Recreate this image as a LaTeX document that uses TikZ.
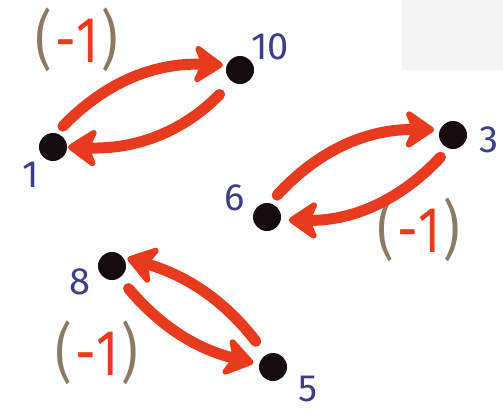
\documentclass[tikz,border=0pt]{standalone}
\usepackage{fontspec}
\setmainfont{Fira Sans}
\usetikzlibrary{arrows.meta}
\definecolor{arrred}{RGB}{232,58,28}
\definecolor{lblblue}{RGB}{60,62,140}
\definecolor{brn}{RGB}{140,122,100}
\definecolor{dotblk}{RGB}{22,12,16}
\definecolor{scan}{RGB}{243,243,243}
\tikzset{
  dot/.style={circle,fill=dotblk,minimum size=28pt,inner sep=0pt,outer sep=0pt},
  lbl/.style={text=lblblue,font=\fontsize{38}{38}\selectfont,inner sep=0pt},
  neg/.style={font=\fontsize{54}{54}\selectfont,inner sep=0pt},
  arr/.style={draw=arrred,line width=11pt,line cap=round,
    -{Stealth[length=34pt,width=46pt,inset=10pt,round]}}
}
\newcommand{\minusone}{\scalebox{0.95}[1.2]{{\color{brn}(}\kern3pt{\color{arrred}-\kern1pt1}\kern3pt{\color{brn})}}}
\begin{document}
\begin{tikzpicture}[x=1pt,y=-1pt]
\useasboundingbox (0,0) rectangle (503,415);
\fill[scan] (402,0) rectangle (503,70);
% nodes
\node[dot] (n1) at (53,147) {};
\node[dot] (n10) at (240,70) {};
\node[dot] (n3) at (453,135) {};
\node[dot] (n6) at (267,217) {};
\node[dot] (n8) at (112,266) {};
\node[dot] (n5) at (273,367) {};
% labels
\node[lbl] (l1) at (31,175) {1};
\node[lbl] (l10) at (270,47) {10};
\node[lbl] (l3) at (489,140) {3};
\node[lbl] (l6) at (235,198) {6};
\node[lbl] (l8) at (80,282) {8};
\node[lbl] (l5) at (308,389) {5};
\node[neg] (m1) at (77,40) {\minusone};
\node[neg] (m2) at (419,230) {\minusone};
\node[neg] (m3) at (97,353) {\minusone};
% arrows
\draw[arr,shorten <=10pt,shorten >=4pt] (n1.78) to[bend left=24] (n10.160);
\draw[arr,shorten <=18pt,shorten >=1pt] (n10.236) to[bend left=24] (n1.0);
\draw[arr,shorten <=11pt,shorten >=6pt] (n6.79) to[bend left=24] (n3.158);
\draw[arr,shorten <=12pt,shorten >=8pt] (n3.252) to[bend left=24] (n6.-12);
\draw[arr,shorten <=14pt,shorten >=6pt] (n8.-58) to[bend right=18] (n5.169);
\draw[arr,shorten <=17pt,shorten >=5pt] (n5.119) to[bend right=18] (n8.41);
\end{tikzpicture}
\end{document}
